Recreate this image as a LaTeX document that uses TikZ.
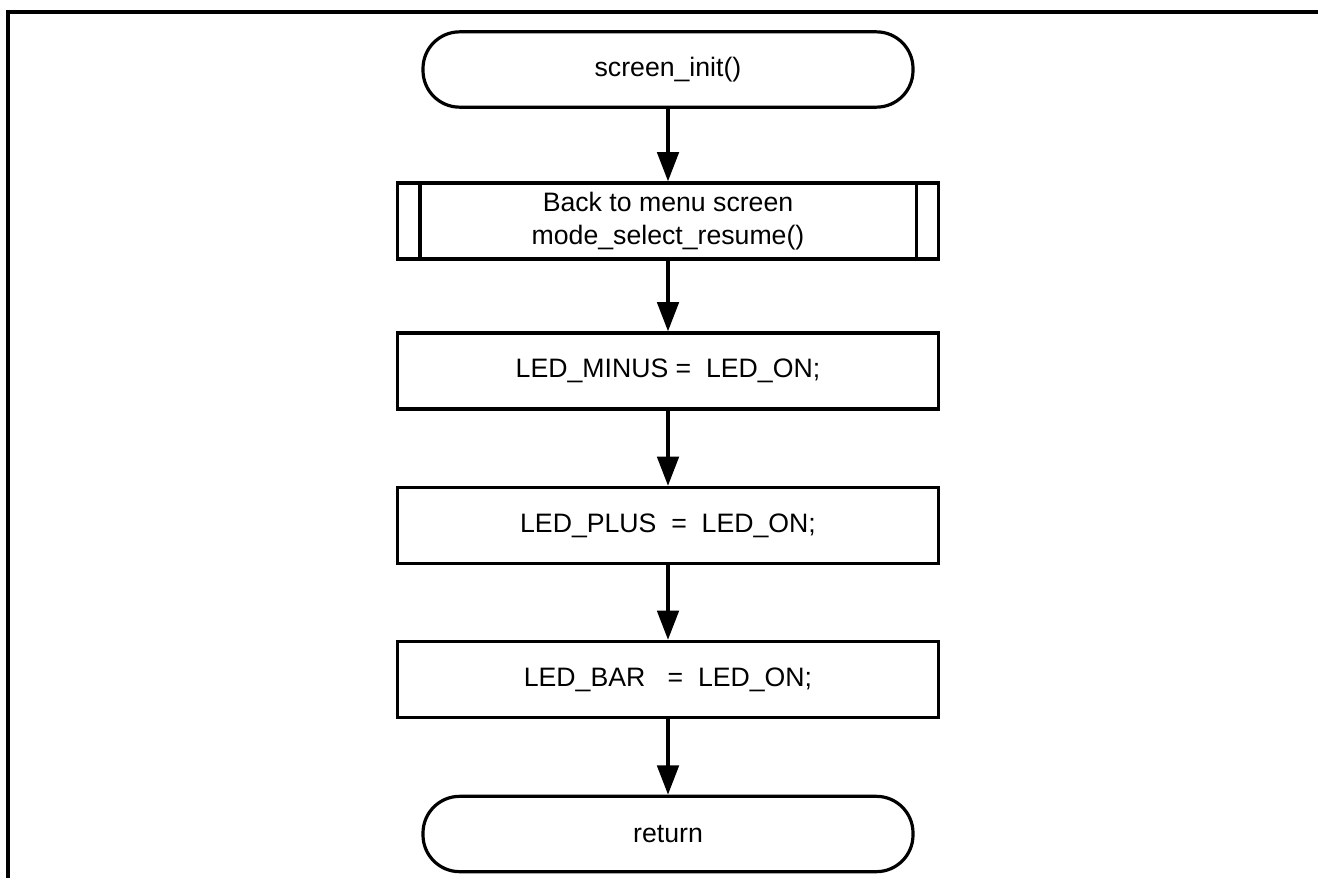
\documentclass[tikz,border=0pt]{standalone}
\usepackage{fontspec}
\setmainfont{Liberation Sans}
\usetikzlibrary{arrows.meta}
\begin{document}
\begin{tikzpicture}[x=0.75pt,y=-0.75pt,
  every node/.style={font=\fontsize{20}{25}\selectfont, align=center, line width=2.4pt, draw, inner sep=0pt},
  term/.style={rectangle, rounded corners=27.5pt, minimum width=367.5pt, minimum height=56.5pt},
  proc/.style={rectangle, minimum width=405.75pt, minimum height=57pt},
  flow/.style={line width=3pt, -{Triangle[length=22pt,width=16pt]}},
  frame/.style={line width=2.4pt}]
\useasboundingbox (0,0) rectangle (1318,878);
\draw[frame] (8,878) -- (8,12) -- (1318,12);
\node[term] (start) at (668,69.5) {screen\_init()};
\node[proc] (sub) at (668,221) {Back to menu screen\\mode\_select\_resume()};
\draw[line width=2.4pt] ([xshift=18pt]sub.north west) -- ([xshift=18pt]sub.south west);
\draw[line width=2.4pt] ([xshift=-18pt]sub.north east) -- ([xshift=-18pt]sub.south east);
\node[proc] (p1) at (668,371) {LED\_MINUS =\ \ LED\_ON;};
\node[proc] (p2) at (668,525.5) {LED\_PLUS\ \ =\ \ LED\_ON;};
\node[proc] (p3) at (668,679.5) {LED\_BAR\ \ \ =\ \ LED\_ON;};
\node[term] (ret) at (668,834) {return};
\draw[flow] (start) -- (sub);
\draw[flow] (sub) -- (p1);
\draw[flow] (p1) -- (p2);
\draw[flow] (p2) -- (p3);
\draw[flow] (p3) -- (ret);
\end{tikzpicture}
\end{document}
